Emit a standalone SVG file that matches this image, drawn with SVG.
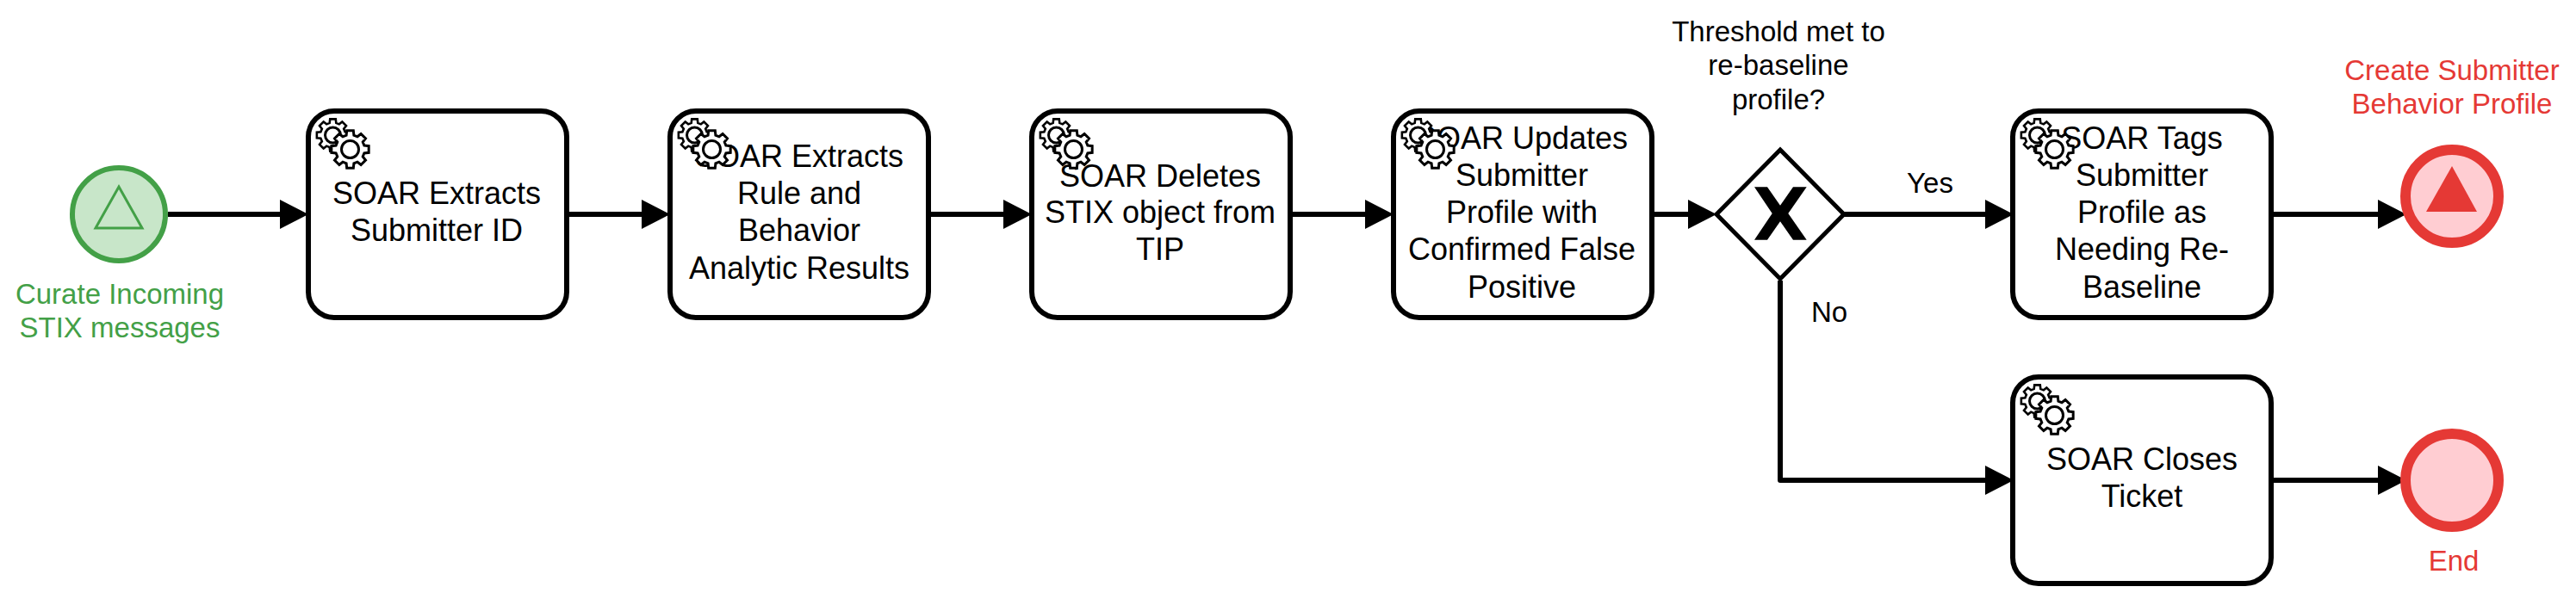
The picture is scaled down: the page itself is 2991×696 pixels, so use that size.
<svg xmlns="http://www.w3.org/2000/svg" xmlns:xlink="http://www.w3.org/1999/xlink" width="2991" height="696" viewBox="0 0 2991 696">
<style>
text{font-family:"Liberation Sans",Arial,sans-serif;text-anchor:middle}
.t{font-size:36px;fill:#000}
.l{font-size:33px;fill:#000}
.g{font-size:33px;fill:#43a047}
.r{font-size:33px;fill:#e53935}
.task{fill:#fff;stroke:#000;stroke-width:6}
.wheel{fill:#fff;stroke:#000;stroke-width:3;stroke-linejoin:miter}
.conn{fill:none;stroke:#000;stroke-width:6;stroke-linejoin:round;marker-end:url(#arrow)}
.endev{fill:#ffcdd2;stroke:#e53935;stroke-width:12}
</style>
<defs>
<marker id="arrow" markerUnits="userSpaceOnUse" markerWidth="33" markerHeight="34" refX="1" refY="17" orient="auto"><path d="M0,0L33,17L0,34z" fill="#000"/></marker>
<path id="wheel" d="M16.42-4.4L21.67-3.82L21.67 3.82L16.42 4.4L14.72 8.5L18.02 12.62L12.62 18.02L8.5 14.72L4.4 16.42L3.82 21.67L-3.82 21.67L-4.4 16.42L-8.5 14.72L-12.62 18.02L-18.02 12.62L-14.72 8.5L-16.42 4.4L-21.67 3.82L-21.67-3.82L-16.42-4.4L-14.72-8.5L-18.02-12.62L-12.62-18.02L-8.5-14.72L-4.4-16.42L-3.82-21.67L3.82-21.67L4.4-16.42L8.5-14.72L12.62-18.02L18.02-12.62L14.72-8.5Z"/>
<g id="gears">
<use xlink:href="#wheel" href="#wheel" class="wheel" transform="translate(19.5,19) scale(.86)"/>
<circle cx="19.5" cy="19" r="9" fill="none" stroke="#000" stroke-width="3"/>
<use xlink:href="#wheel" href="#wheel" class="wheel" transform="translate(39.5,35.5)"/>
<circle cx="39.5" cy="35.5" r="10" fill="#fff" stroke="#000" stroke-width="3"/>
</g>
</defs>
<g id="connectors">
<path class="conn" d="M195 249H326"/>
<path class="conn" d="M661 249H746"/>
<path class="conn" d="M1081 249H1166"/>
<path class="conn" d="M1501 249H1586"/>
<path class="conn" d="M1921 249H1961"/>
<path class="conn" d="M2141 249H2306"/>
<path class="conn" d="M2067 326V558H2306"/>
<path class="conn" d="M2639 249H2762"/>
<path class="conn" d="M2639 558H2762"/>
</g>
<g id="start"><circle cx="138" cy="249" r="54" fill="#c8e6c9" stroke="#43a047" stroke-width="6"/><path d="M138 217L165 265H111Z" fill="none" stroke="#43a047" stroke-width="3"/>
<text class="g" x="139" y="353">Curate Incoming</text><text class="g" x="139" y="392">STIX messages</text></g>
<g id="task1"><rect class="task" x="358" y="129" width="300" height="240" rx="30"/>
<text class="t" x="507" y="237">SOAR Extracts</text><text class="t" x="507" y="280">Submitter ID</text>
<use xlink:href="#gears" href="#gears" x="367" y="138"/></g>
<g id="task2"><rect class="task" x="778" y="129" width="300" height="240" rx="30"/>
<text class="t" x="928" y="194">SOAR Extracts</text><text class="t" x="928" y="237">Rule and</text><text class="t" x="928" y="280">Behavior</text><text class="t" x="928" y="324">Analytic Results</text>
<use xlink:href="#gears" href="#gears" x="787" y="138"/></g>
<g id="task3"><rect class="task" x="1198" y="129" width="300" height="240" rx="30"/>
<text class="t" x="1347" y="216.500">SOAR Deletes</text><text class="t" x="1347" y="259">STIX object from</text><text class="t" x="1347" y="302">TIP</text>
<use xlink:href="#gears" href="#gears" x="1207" y="138"/></g>
<g id="task4"><rect class="task" x="1618" y="129" width="300" height="240" rx="30"/>
<text class="t" x="1767" y="172.500">SOAR Updates</text><text class="t" x="1767" y="216">Submitter</text><text class="t" x="1767" y="259">Profile with</text><text class="t" x="1767" y="302">Confirmed False</text><text class="t" x="1767" y="345.500">Positive</text>
<use xlink:href="#gears" href="#gears" x="1627" y="138"/></g>
<g id="gateway"><path d="M2067 174L2141 249L2067 324L1993 249Z" fill="#fff" stroke="#000" stroke-width="5"/>
<path d="M2037 217.300H2052L2067 238.700L2082 217.300H2097.700L2076.300 248L2097.700 278.700H2082L2067 257.300L2052 278.700H2037L2057.700 248Z" fill="#000"/>
<text class="l" x="2065" y="47.500">Threshold met to</text><text class="l" x="2065" y="87">re-baseline</text><text class="l" x="2065" y="126.500">profile?</text></g>
<text class="l" x="2241" y="224">Yes</text>
<text class="l" x="2124" y="374">No</text>
<g id="task5"><rect class="task" x="2337" y="129" width="300" height="240" rx="30"/>
<text class="t" x="2487" y="172.500">SOAR Tags</text><text class="t" x="2487" y="216">Submitter</text><text class="t" x="2487" y="259">Profile as</text><text class="t" x="2487" y="302">Needing Re-</text><text class="t" x="2487" y="345.500">Baseline</text>
<use xlink:href="#gears" href="#gears" x="2346" y="138"/></g>
<g id="task6"><rect class="task" x="2337" y="438" width="300" height="240" rx="30"/>
<text class="t" x="2487" y="546">SOAR Closes</text><text class="t" x="2487" y="589">Ticket</text>
<use xlink:href="#gears" href="#gears" x="2346" y="447"/></g>
<g id="end1"><circle class="endev" cx="2847" cy="228" r="54"/><path d="M2847 193L2876 246H2817Z" fill="#e53935"/>
<text class="r" x="2847" y="92.500">Create Submitter</text><text class="r" x="2847" y="132">Behavior Profile</text></g>
<g id="end2"><circle class="endev" cx="2847" cy="558" r="54"/>
<text class="r" x="2849" y="662.500">End</text></g>
</svg>
